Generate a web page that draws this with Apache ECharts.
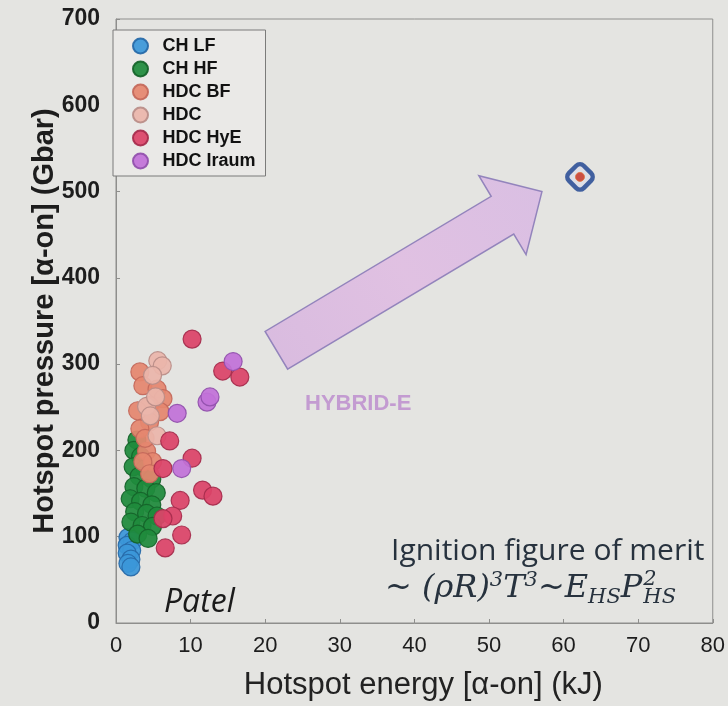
<!DOCTYPE html>
<html>
<head>
<meta charset="utf-8">
<script src="https://cdn.jsdelivr.net/npm/echarts@6/dist/echarts.min.js"></script>
<style>
  html, body { margin: 0; padding: 0; background: #e4e4e1; }
  #chart { width: 728px; height: 706px; }
</style>
</head>
<body>
<div id="chart"></div>
<script>
// ---- data: [hotspot energy (kJ), hotspot pressure (Gbar)] ----
const seriesNames = ['CH LF', 'CH HF', 'HDC BF', 'HDC', 'HDC HyE', 'HDC Iraum'];

const chLF = [
  [1.6, 99], [2.2, 95], [1.5, 90], [2.1, 84], [1.5, 81], [2.0, 74], [1.6, 69], [2.0, 65]
];

const chHF = [
  [2.8, 212], [2.4, 200], [3.3, 193], [2.3, 181], [3.9, 179], [3.1, 170], [4.8, 167],
  [2.4, 158], [4.0, 156], [5.4, 151], [1.9, 144], [3.3, 141], [4.8, 137], [2.5, 129],
  [4.1, 127], [5.5, 124], [2.0, 117], [3.5, 113], [4.9, 112], [2.9, 103], [4.3, 98]
];

const hdcBF = [
  [3.2, 291], [3.6, 275], [5.5, 271], [6.3, 260], [4.5, 252], [5.9, 245], [4.5, 233],
  [3.2, 225], [4.1, 199], [4.9, 187], [3.6, 187], [4.5, 173], [2.9, 246], [3.9, 214]
];

const hdc = [
  [5.6, 304], [6.2, 298], [4.9, 287], [4.1, 251], [5.5, 217], [4.6, 240], [5.3, 262]
];

const hdcHyE = [
  [10.2, 329], [14.3, 292], [16.6, 285], [7.2, 211], [10.2, 191], [6.3, 179],
  [8.6, 142], [7.6, 124], [6.3, 121], [8.8, 102], [6.6, 87], [11.6, 154], [13.0, 147]
];

const hdcIraum = [
  [15.7, 303], [12.2, 256], [12.6, 262], [8.2, 243], [8.8, 179]
];

// projected HYBRID-E design point
const hybridE = [[62.2, 517]];

// annotation arrow, from the data cloud towards the design point
const arrowTail = [21.5, 316];
const arrowTip = [57.1, 500];

// axes
const xMin = 0, xMax = 80, xStep = 10;
const yMin = 0, yMax = 700, yStep = 100;

const palette = {
  'CH LF':     { fill: '#3b97d8', edge: '#2769a8' },
  'CH HF':     { fill: '#1f8b3c', edge: '#15632a' },
  'HDC BF':    { fill: '#e5866f', edge: '#c4685a' },
  'HDC':       { fill: '#ebb6ab', edge: '#b98d88' },
  'HDC HyE':   { fill: '#dc4468', edge: '#a62c4c' },
  'HDC Iraum': { fill: '#c272d8', edge: '#9151ac' }
};
const groups = [chLF, chHF, hdcBF, hdc, hdcHyE, hdcIraum];

const chart = echarts.init(document.getElementById('chart'), null, { renderer: 'canvas' });

const GRID = { left: 116, right: 14, top: 19, bottom: 81 };

const scatterSeries = seriesNames.map((name, i) => ({
  name,
  type: 'scatter',
  data: groups[i],
  symbol: 'circle',
  symbolSize: 18,
  z: 3 + i,
  itemStyle: {
    color: palette[name].fill,
    borderColor: palette[name].edge,
    borderWidth: 1.2,
    opacity: 0.93
  },
  emphasis: { disabled: true }
}));

const option = {
  backgroundColor: '#e4e4e1',
  animation: false,
  grid: {
    left: GRID.left, right: GRID.right, top: GRID.top, bottom: GRID.bottom,
    show: true, borderColor: '#8e8e8c', borderWidth: 1, backgroundColor: 'transparent'
  },
  legend: {
    data: seriesNames,
    orient: 'vertical',
    left: 113, top: 30,
    padding: [7, 10, 6, 19],
    itemWidth: 34, itemHeight: 15, itemGap: 5,
    icon: 'circle',
    backgroundColor: '#eae9e7',
    borderColor: '#7b7b7a', borderWidth: 1,
    textStyle: { fontFamily: 'Liberation Sans', fontWeight: 'bold', fontSize: 18, color: '#121212' },
    selectedMode: false
  },
  xAxis: {
    type: 'value', min: xMin, max: xMax, interval: xStep,
    name: 'Hotspot energy [α-on] (kJ)',
    nameLocation: 'middle', nameGap: 47,
    nameMoveOverlap: false,
    nameTextStyle: { fontFamily: 'Liberation Sans', fontSize: 31, color: '#222', padding: [0, 0, 0, 18] },
    axisLine: { show: true, onZero: false, lineStyle: { color: '#8e8e8c', width: 1 } },
    axisTick: { show: true, inside: true, length: 4, lineStyle: { color: '#8e8e8c' } },
    axisLabel: { margin: 12, fontFamily: 'Liberation Sans', fontSize: 22, color: '#1d1d1d' },
    splitLine: { show: false }
  },
  yAxis: {
    type: 'value', min: yMin, max: yMax, interval: yStep,
    name: 'Hotspot pressure [α-on] (Gbar)',
    nameLocation: 'middle', nameGap: 57, nameRotate: 90,
    nameMoveOverlap: false,
    nameTextStyle: { fontFamily: 'Liberation Sans', fontWeight: 'bold', fontSize: 29, color: '#1d1d1d' },
    axisLine: { show: true, onZero: false, lineStyle: { color: '#8e8e8c', width: 1 } },
    axisTick: { show: true, inside: true, length: 4, lineStyle: { color: '#8e8e8c' } },
    axisLabel: { margin: 16, fontFamily: 'Liberation Sans', fontWeight: 'bold', fontSize: 23, color: '#1d1d1d' },
    splitLine: { show: false }
  },
  series: scatterSeries.concat([
    {
      name: 'HYBRID-E ring',
      type: 'scatter',
      data: hybridE,
      symbol: 'roundRect',
      symbolRotate: 45,
      symbolSize: 21,
      z: 20,
      itemStyle: { color: '#dcdde8', borderColor: '#183f8e', borderWidth: 4.5 },
      emphasis: { disabled: true }
    },
    {
      name: 'HYBRID-E point',
      type: 'scatter',
      data: hybridE,
      symbol: 'circle',
      symbolSize: 9,
      z: 21,
      itemStyle: { color: '#c62a1c', borderColor: '#e0703a', borderWidth: 1 },
      emphasis: { disabled: true }
    }
  ])
};

chart.setOption(option);

// ---- annotations ----
function measure(text, font) {
  const ctx = document.createElement('canvas').getContext('2d');
  ctx.font = font;
  return ctx.measureText(text).width;
}

function arrowPolygon() {
  const a = chart.convertToPixel({ gridIndex: 0 }, arrowTail);
  const b = chart.convertToPixel({ gridIndex: 0 }, arrowTip);
  const dx = b[0] - a[0], dy = b[1] - a[1];
  const len = Math.hypot(dx, dy);
  const ux = dx / len, uy = dy / len;
  const nx = -uy, ny = ux;
  const bodyHalf = 22, headHalf = 46, headLen = 46;
  const neck = [b[0] - ux * headLen, b[1] - uy * headLen];
  return [
    [a[0] + nx * bodyHalf, a[1] + ny * bodyHalf],
    [neck[0] + nx * bodyHalf, neck[1] + ny * bodyHalf],
    [neck[0] + nx * headHalf, neck[1] + ny * headHalf],
    b,
    [neck[0] - nx * headHalf, neck[1] - ny * headHalf],
    [neck[0] - nx * bodyHalf, neck[1] - ny * bodyHalf],
    [a[0] - nx * bodyHalf, a[1] - ny * bodyHalf]
  ];
}

const serif = '"DejaVu Serif", "Liberation Serif", serif';
const fBase = 'italic 32px ' + serif;
const fSmall = 'italic 21px ' + serif;
const ink = '#27323e';
const formulaLeft = 385, formulaTop = 570;
const partWidth =
  measure('~ (ρR)', fBase) + measure('3', fSmall) + measure('T', fBase) +
  measure('3', fSmall) + measure('~E', fBase) + measure('HS', fSmall) + measure('P', fBase);

chart.setOption({
  graphic: [
    {
      type: 'polygon',
      z: 2,
      shape: { points: arrowPolygon() },
      style: {
        fill: new echarts.graphic.LinearGradient(0, 1, 1, 0, [
          { offset: 0, color: '#d8b9df' },
          { offset: 0.5, color: '#e0bfe2' },
          { offset: 1, color: '#d9bde3' }
        ]),
        stroke: '#8e80b9',
        lineWidth: 1.5,
        opacity: 0.95
      }
    },
    {
      type: 'text', left: 305, top: 393, z: 5,
      style: {
        text: 'HYBRID-E',
        font: 'bold 22px "Liberation Sans", Arial, sans-serif',
        fill: '#c39bd1'
      }
    },
    {
      type: 'text', left: 391, top: 536, z: 5,
      style: {
        text: 'Ignition figure of merit',
        font: '30px "Open Sans", "Liberation Sans", sans-serif',
        fill: ink
      }
    },
    {
      type: 'text', left: formulaLeft, top: formulaTop, z: 5,
      style: {
        text: '{t|~ (ρR)}{sup|3}{t|T}{sup|3}{t|~E}{sub|HS}{t|P}',
        rich: {
          t: { font: fBase, fill: ink, lineHeight: 38 },
          sup: { font: fSmall, fill: ink, lineHeight: 21, verticalAlign: 'top' },
          sub: { font: fSmall, fill: ink, lineHeight: 21, verticalAlign: 'bottom' }
        }
      }
    },
    {
      type: 'text', left: formulaLeft + partWidth + 1, top: formulaTop - 1, z: 5,
      style: { text: '2', font: fSmall, fill: ink }
    },
    {
      type: 'text', left: formulaLeft + partWidth + 1, top: formulaTop + 17, z: 5,
      style: { text: 'HS', font: fSmall, fill: ink }
    },
    {
      type: 'text', left: 164, top: 587, z: 5,
      style: {
        text: 'Patel',
        font: 'italic 32px "Open Sans", "Liberation Sans", sans-serif',
        fill: '#1b1b1b'
      }
    }
  ]
});
</script>
</body>
</html>
